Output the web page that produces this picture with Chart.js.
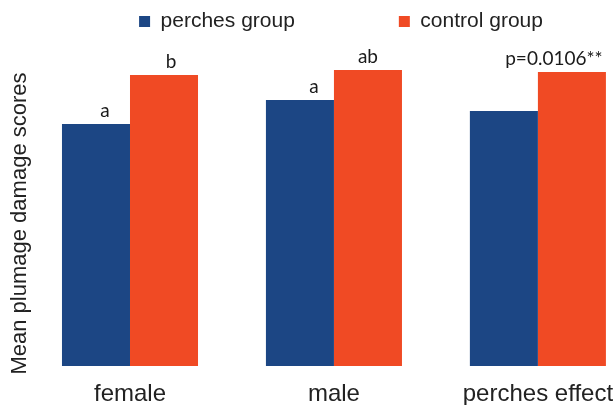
<!DOCTYPE html>
<html>
<head>
<meta charset="utf-8">
<title>Mean plumage damage scores</title>
<script src="https://cdn.jsdelivr.net/npm/chart.js@4.4.1/dist/chart.umd.min.js"></script>
<style>
  html, body { margin: 0; padding: 0; background: #fff; }
  canvas { display: block; }
</style>
</head>
<body>
<canvas id="damageChart" width="615" height="405"></canvas>
<script>
// values (arbitrary score units)
const categories = ['female', 'male', 'perches effect'];
const perchesGroup = [2.42, 2.66, 2.55];
const controlGroup = [2.91, 2.96, 2.94];
const perchesLetters = ['a', 'a', ''];
const controlLetters = ['b', 'ab', 'p=0.0106**'];

Chart.defaults.font.family = '"Liberation Sans", Arial, sans-serif';
Chart.defaults.color = '#222';

// letters above the bars
const letterPlugin = {
  id: 'letters',
  afterDatasetsDraw(chart, args, opts) {
    const ctx = chart.ctx;
    ctx.save();
    ctx.font = opts.font;
    ctx.fillStyle = opts.color;
    ctx.textAlign = 'center';
    ctx.textBaseline = 'alphabetic';
    chart.data.datasets.forEach((ds, d) => {
      chart.getDatasetMeta(d).data.forEach((bar, i) => {
        const text = ds.letters[i];
        if (!text) return;
        ctx.fillText(text, bar.x + opts.shift[d][i], bar.y - opts.gap);
      });
    });
    ctx.restore();
  }
};

const toPoints = values => values.map((v, i) => ({ x: i, y: v }));

const chart = new Chart(document.getElementById('damageChart'), {
  type: 'bar',
  data: {
    datasets: [{
      label: 'perches group',
      data: toPoints(perchesGroup),
      letters: perchesLetters,
      backgroundColor: '#1c4684'
    }, {
      label: 'control group',
      data: toPoints(controlGroup),
      letters: controlLetters,
      backgroundColor: '#f04a24'
    }]
  },
  plugins: [letterPlugin],
  options: {
    responsive: false,
    animation: false,
    barPercentage: 1,
    categoryPercentage: 0.667,
    // negative padding only to pull the legend up and to the right
    layout: { padding: { top: -93, right: -67, bottom: 0, left: 0 } },
    plugins: {
      legend: {
        labels: {
          boxWidth: 11,
          boxHeight: 11,
          padding: 104,
          font: { size: 21 }
        }
      },
      tooltip: { enabled: false },
      letters: {
        font: '19px Lato, "Open Sans", sans-serif',
        color: '#1a1a1a',
        gap: 7,
        shift: [[9, 14, 0], [7, 0, -18]]
      }
    },
    scales: {
      x: {
        type: 'linear',
        offset: false,
        bounds: 'data',
        min: -0.454,
        max: 2.378,
        grid: { display: false, drawTicks: false },
        border: { display: false },
        afterBuildTicks: scale => {
          scale.ticks = categories.map((c, i) => ({ value: i }));
        },
        ticks: {
          callback: v => categories[v],
          font: { size: 24 },
          padding: -25,
          autoSkip: false,
          maxRotation: 0
        }
      },
      y: {
        min: -0.39,
        max: 3.24,
        ticks: { display: false },
        grid: { display: false, drawTicks: false },
        border: { display: false },
        title: {
          display: true,
          text: 'Mean plumage damage scores',
          font: { size: 22 },
          padding: { top: 7, bottom: 4 }
        }
      }
    }
  }
});
</script>
</body>
</html>
